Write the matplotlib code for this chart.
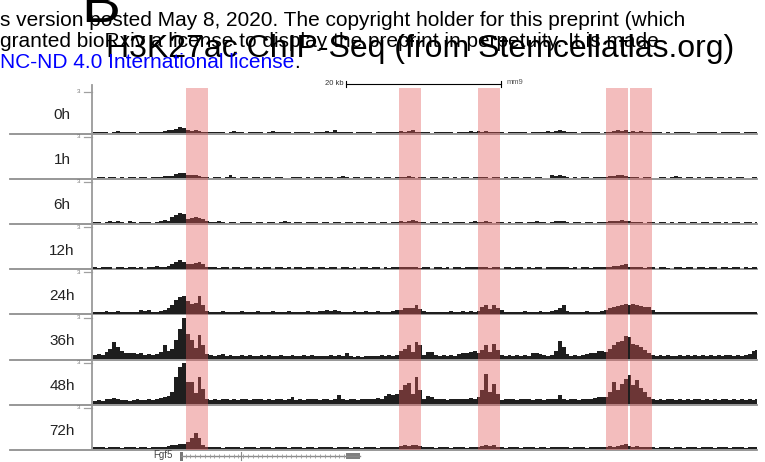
"""H3K27ac ChIP-Seq tracks around Fgf5 (Stemcellatlas.org), time course 0h-72h."""
import numpy as np
import matplotlib

matplotlib.use("Agg")
import matplotlib.pyplot as plt  # noqa: E402
from matplotlib.lines import Line2D  # noqa: E402
from matplotlib.patches import Rectangle  # noqa: E402

plt.rcParams["font.family"] = ["Liberation Sans", "DejaVu Sans"]

W, H = 765, 462

# ---- data -------------------------------------------------------------
BIN_KB = 0.5          # signal bin width (kb)
REGION_KB = 85.7      # visible window width (kb)
TRACK_MAX = 3         # data range of every track

TIMEPOINTS = ["0h", "1h", "6h", "12h", "24h", "36h", "48h", "72h"]

SIGNAL_0H = [
    0.1, 0.05, 0.1, 0.1, 0.0, 0.1, 0.15, 0.1, 0.05, 0.1, 0.1, 0.0, 0.1, 0.05, 0.1, 0.1, 0.1, 0.05, 0.15, 0.2,
    0.2, 0.3, 0.4, 0.35, 0.2, 0.15, 0.2, 0.15, 0.1, 0.1, 0.1, 0.05, 0.1, 0.1, 0.0, 0.1, 0.15, 0.05, 0.1, 0.0,
    0.1, 0.05, 0.1, 0.1, 0.0, 0.1, 0.15, 0.1, 0.05, 0.1, 0.1, 0.0, 0.1, 0.1, 0.05, 0.1, 0.0, 0.1, 0.1, 0.1,
    0.15, 0.1, 0.2, 0.1, 0.05, 0.1, 0.1, 0.0, 0.1, 0.05, 0.1, 0.1, 0.0, 0.1, 0.1, 0.1, 0.05, 0.1, 0.1, 0.15,
    0.1, 0.15, 0.2, 0.1, 0.1, 0.05, 0.1, 0.0, 0.1, 0.1, 0.05, 0.1, 0.1, 0.0, 0.1, 0.1, 0.1, 0.15, 0.1, 0.15,
    0.1, 0.15, 0.1, 0.1, 0.05, 0.1, 0.0, 0.1, 0.1, 0.05, 0.1, 0.1, 0.0, 0.05, 0.1, 0.1, 0.1, 0.15, 0.1, 0.15,
    0.25, 0.15, 0.1, 0.05, 0.1, 0.0, 0.1, 0.1, 0.05, 0.1, 0.1, 0.0, 0.1, 0.1, 0.15, 0.2, 0.15, 0.2, 0.1, 0.15,
    0.1, 0.15, 0.1, 0.1, 0.05, 0.1, 0.1, 0.0, 0.1, 0.0, 0.1, 0.05, 0.1, 0.1, 0.0, 0.0, 0.1, 0.1, 0.05, 0.1,
    0.1, 0.0, 0.1, 0.1, 0.05, 0.1, 0.1, 0.0, 0.1, 0.1, 0.05, 0.1,
]
SIGNAL_1H = [
    0.05, 0.1, 0.1, 0.0, 0.1, 0.1, 0.05, 0.1, 0.0, 0.1, 0.1, 0.05, 0.1, 0.1, 0.0, 0.1, 0.1, 0.1, 0.15, 0.15,
    0.15, 0.3, 0.4, 0.35, 0.2, 0.25, 0.2, 0.15, 0.1, 0.1, 0.05, 0.1, 0.1, 0.0, 0.1, 0.2, 0.1, 0.0, 0.1, 0.1,
    0.0, 0.1, 0.1, 0.05, 0.1, 0.1, 0.0, 0.1, 0.1, 0.05, 0.0, 0.1, 0.1, 0.1, 0.05, 0.1, 0.0, 0.1, 0.1, 0.05,
    0.1, 0.1, 0.0, 0.1, 0.15, 0.1, 0.05, 0.1, 0.1, 0.0, 0.1, 0.1, 0.05, 0.1, 0.0, 0.1, 0.1, 0.05, 0.1, 0.1,
    0.1, 0.15, 0.1, 0.05, 0.1, 0.1, 0.0, 0.1, 0.1, 0.05, 0.1, 0.1, 0.0, 0.1, 0.05, 0.1, 0.1, 0.0, 0.1, 0.1,
    0.1, 0.1, 0.05, 0.1, 0.1, 0.0, 0.1, 0.05, 0.1, 0.1, 0.0, 0.1, 0.1, 0.05, 0.1, 0.1, 0.0, 0.05, 0.2, 0.15,
    0.2, 0.15, 0.1, 0.05, 0.1, 0.0, 0.1, 0.1, 0.05, 0.1, 0.1, 0.1, 0.1, 0.15, 0.15, 0.2, 0.25, 0.15, 0.1, 0.1,
    0.1, 0.05, 0.1, 0.1, 0.0, 0.0, 0.1, 0.1, 0.05, 0.1, 0.15, 0.1, 0.05, 0.1, 0.1, 0.0, 0.1, 0.05, 0.1, 0.1,
    0.0, 0.1, 0.1, 0.05, 0.1, 0.0, 0.1, 0.1, 0.05, 0.0, 0.1, 0.1,
]
SIGNAL_6H = [
    0.1, 0.1, 0.05, 0.1, 0.15, 0.1, 0.15, 0.1, 0.05, 0.15, 0.1, 0.05, 0.1, 0.1, 0.1, 0.05, 0.1, 0.2, 0.25, 0.2,
    0.45, 0.6, 0.75, 0.7, 0.35, 0.4, 0.45, 0.4, 0.3, 0.15, 0.1, 0.1, 0.15, 0.1, 0.05, 0.1, 0.1, 0.0, 0.1, 0.1,
    0.1, 0.05, 0.1, 0.1, 0.0, 0.1, 0.1, 0.05, 0.1, 0.15, 0.1, 0.0, 0.1, 0.1, 0.05, 0.1, 0.1, 0.1, 0.05, 0.1,
    0.1, 0.0, 0.1, 0.1, 0.05, 0.1, 0.1, 0.0, 0.1, 0.1, 0.05, 0.1, 0.1, 0.0, 0.1, 0.1, 0.05, 0.1, 0.1, 0.15,
    0.1, 0.15, 0.25, 0.15, 0.1, 0.1, 0.05, 0.1, 0.1, 0.0, 0.1, 0.1, 0.05, 0.1, 0.1, 0.1, 0.05, 0.1, 0.15, 0.1,
    0.1, 0.15, 0.1, 0.05, 0.1, 0.1, 0.0, 0.1, 0.05, 0.1, 0.1, 0.05, 0.1, 0.1, 0.15, 0.1, 0.1, 0.05, 0.1, 0.15,
    0.2, 0.15, 0.1, 0.05, 0.1, 0.1, 0.0, 0.1, 0.1, 0.05, 0.1, 0.1, 0.1, 0.15, 0.15, 0.2, 0.25, 0.15, 0.15, 0.1,
    0.1, 0.1, 0.05, 0.1, 0.1, 0.0, 0.1, 0.1, 0.05, 0.1, 0.0, 0.1, 0.1, 0.05, 0.1, 0.1, 0.0, 0.1, 0.1, 0.05,
    0.1, 0.1, 0.0, 0.1, 0.05, 0.1, 0.1, 0.0, 0.1, 0.1, 0.05, 0.1,
]
SIGNAL_12H = [
    0.1, 0.05, 0.1, 0.1, 0.1, 0.0, 0.1, 0.1, 0.05, 0.1, 0.1, 0.05, 0.1, 0.0, 0.1, 0.1, 0.2, 0.1, 0.15, 0.2,
    0.3, 0.5, 0.65, 0.5, 0.3, 0.35, 0.4, 0.45, 0.3, 0.15, 0.1, 0.1, 0.05, 0.1, 0.1, 0.0, 0.1, 0.1, 0.05, 0.1,
    0.1, 0.0, 0.1, 0.05, 0.1, 0.1, 0.0, 0.1, 0.1, 0.05, 0.1, 0.0, 0.1, 0.1, 0.05, 0.1, 0.1, 0.0, 0.1, 0.1,
    0.05, 0.1, 0.1, 0.0, 0.1, 0.1, 0.05, 0.1, 0.0, 0.1, 0.1, 0.05, 0.1, 0.1, 0.0, 0.1, 0.05, 0.1, 0.1, 0.1,
    0.15, 0.1, 0.1, 0.1, 0.05, 0.1, 0.1, 0.0, 0.1, 0.1, 0.05, 0.1, 0.0, 0.1, 0.1, 0.05, 0.1, 0.1, 0.1, 0.1,
    0.1, 0.1, 0.05, 0.1, 0.1, 0.0, 0.1, 0.1, 0.05, 0.1, 0.1, 0.0, 0.1, 0.05, 0.1, 0.1, 0.0, 0.1, 0.1, 0.1,
    0.15, 0.1, 0.1, 0.05, 0.1, 0.0, 0.1, 0.1, 0.05, 0.1, 0.1, 0.1, 0.1, 0.15, 0.2, 0.2, 0.25, 0.3, 0.15, 0.1,
    0.1, 0.1, 0.05, 0.1, 0.1, 0.0, 0.1, 0.1, 0.05, 0.0, 0.1, 0.1, 0.05, 0.1, 0.1, 0.0, 0.1, 0.1, 0.05, 0.1,
    0.1, 0.0, 0.1, 0.1, 0.05, 0.1, 0.1, 0.0, 0.1, 0.05, 0.1, 0.1,
]
SIGNAL_24H = [
    0.15, 0.1, 0.15, 0.2, 0.1, 0.15, 0.2, 0.1, 0.1, 0.15, 0.1, 0.15, 0.25, 0.2, 0.25, 0.1, 0.15, 0.2, 0.3, 0.4,
    0.6, 1.0, 1.2, 1.3, 0.95, 0.7, 0.8, 1.3, 0.6, 0.2, 0.15, 0.1, 0.15, 0.2, 0.1, 0.15, 0.1, 0.15, 0.2, 0.1,
    0.15, 0.1, 0.2, 0.15, 0.1, 0.15, 0.2, 0.1, 0.15, 0.1, 0.2, 0.15, 0.1, 0.15, 0.1, 0.2, 0.15, 0.1, 0.2, 0.2,
    0.25, 0.2, 0.25, 0.2, 0.15, 0.1, 0.15, 0.2, 0.1, 0.15, 0.2, 0.15, 0.1, 0.2, 0.15, 0.1, 0.15, 0.2, 0.25, 0.3,
    0.4, 0.45, 0.4, 0.6, 0.35, 0.2, 0.1, 0.1, 0.15, 0.1, 0.15, 0.1, 0.2, 0.15, 0.15, 0.2, 0.15, 0.2, 0.15, 0.2,
    0.5, 0.6, 0.35, 0.6, 0.45, 0.3, 0.15, 0.1, 0.15, 0.1, 0.15, 0.2, 0.1, 0.15, 0.15, 0.2, 0.1, 0.15, 0.2, 0.3,
    0.4, 0.6, 0.2, 0.1, 0.15, 0.1, 0.15, 0.2, 0.15, 0.1, 0.15, 0.2, 0.3, 0.45, 0.5, 0.55, 0.6, 0.7, 0.6, 0.7,
    0.6, 0.55, 0.5, 0.5, 0.3, 0.15, 0.1, 0.15, 0.1, 0.15, 0.1, 0.1, 0.15, 0.1, 0.1, 0.15, 0.1, 0.1, 0.15, 0.1,
    0.1, 0.15, 0.1, 0.1, 0.15, 0.1, 0.1, 0.15, 0.1, 0.1, 0.1, 0.15,
]
SIGNAL_36H = [
    0.3, 0.35, 0.3, 0.5, 0.75, 1.2, 0.9, 0.6, 0.45, 0.4, 0.45, 0.35, 0.4, 0.3, 0.35, 0.3, 0.35, 0.5, 1.0, 0.55,
    0.75, 1.4, 2.2, 3.0, 1.8, 1.4, 0.8, 1.75, 1.0, 0.35, 0.3, 0.25, 0.3, 0.35, 0.25, 0.3, 0.2, 0.25, 0.3, 0.25,
    0.3, 0.25, 0.2, 0.3, 0.25, 0.3, 0.2, 0.25, 0.3, 0.2, 0.25, 0.3, 0.25, 0.2, 0.3, 0.25, 0.3, 0.25, 0.2, 0.25,
    0.25, 0.3, 0.25, 0.3, 0.25, 0.4, 0.2, 0.15, 0.2, 0.15, 0.2, 0.25, 0.2, 0.25, 0.3, 0.25, 0.3, 0.25, 0.3, 0.6,
    0.75, 1.0, 0.5, 1.25, 1.0, 0.3, 0.5, 0.5, 0.3, 0.25, 0.3, 0.25, 0.3, 0.25, 0.35, 0.45, 0.4, 0.5, 0.55, 0.4,
    0.65, 1.0, 0.5, 1.1, 0.65, 0.3, 0.25, 0.3, 0.25, 0.3, 0.25, 0.3, 0.25, 0.4, 0.45, 0.35, 0.3, 0.25, 0.3, 0.55,
    1.3, 0.9, 0.35, 0.25, 0.3, 0.25, 0.3, 0.35, 0.4, 0.45, 0.55, 0.55, 0.5, 0.75, 1.0, 1.25, 1.3, 1.65, 1.6, 1.1,
    1.0, 0.9, 0.65, 0.45, 0.3, 0.25, 0.3, 0.25, 0.3, 0.2, 0.25, 0.3, 0.25, 0.3, 0.25, 0.3, 0.25, 0.3, 0.25, 0.3,
    0.25, 0.3, 0.25, 0.3, 0.3, 0.25, 0.3, 0.25, 0.3, 0.35, 0.55, 0.65,
]
SIGNAL_48H = [
    0.25, 0.3, 0.25, 0.35, 0.4, 0.45, 0.35, 0.3, 0.3, 0.25, 0.3, 0.35, 0.3, 0.3, 0.35, 0.3, 0.4, 0.45, 0.5, 0.6,
    0.9, 2.0, 2.7, 3.0, 1.6, 1.6, 0.8, 2.0, 1.1, 0.35, 0.3, 0.35, 0.3, 0.4, 0.35, 0.3, 0.35, 0.3, 0.4, 0.35,
    0.3, 0.35, 0.4, 0.35, 0.3, 0.35, 0.3, 0.4, 0.35, 0.3, 0.35, 0.55, 0.3, 0.35, 0.3, 0.35, 0.4, 0.35, 0.3, 0.35,
    0.35, 0.3, 0.4, 0.65, 0.35, 0.3, 0.35, 0.4, 0.3, 0.35, 0.4, 0.35, 0.4, 0.45, 0.4, 0.6, 0.7, 0.65, 0.7, 1.0,
    1.4, 1.5, 0.75, 1.95, 1.0, 0.35, 0.6, 0.55, 0.35, 0.4, 0.35, 0.3, 0.4, 0.35, 0.4, 0.35, 0.4, 0.45, 0.4, 0.5,
    1.0, 2.2, 0.9, 1.45, 0.75, 0.3, 0.35, 0.4, 0.35, 0.3, 0.35, 0.4, 0.35, 0.3, 0.4, 0.35, 0.3, 0.35, 0.4, 0.35,
    0.65, 0.35, 0.3, 0.35, 0.4, 0.3, 0.35, 0.4, 0.35, 0.45, 0.55, 0.5, 0.5, 0.9, 1.6, 1.0, 1.45, 1.85, 2.1, 1.4,
    1.75, 1.2, 0.9, 0.5, 0.35, 0.3, 0.35, 0.3, 0.4, 0.35, 0.3, 0.35, 0.3, 0.35, 0.3, 0.4, 0.35, 0.3, 0.35, 0.3,
    0.35, 0.3, 0.35, 0.4, 0.3, 0.35, 0.3, 0.35, 0.3, 0.35, 0.3, 0.35,
]
SIGNAL_72H = [
    0.15, 0.2, 0.15, 0.1, 0.2, 0.15, 0.2, 0.1, 0.15, 0.2, 0.15, 0.1, 0.2, 0.15, 0.1, 0.15, 0.2, 0.15, 0.2, 0.25,
    0.3, 0.35, 0.4, 0.4, 0.5, 0.85, 1.15, 0.8, 0.3, 0.2, 0.15, 0.2, 0.15, 0.1, 0.2, 0.15, 0.2, 0.15, 0.1, 0.15,
    0.2, 0.15, 0.1, 0.15, 0.2, 0.15, 0.1, 0.2, 0.15, 0.2, 0.1, 0.15, 0.2, 0.15, 0.1, 0.15, 0.2, 0.1, 0.15, 0.2,
    0.15, 0.2, 0.1, 0.15, 0.2, 0.15, 0.1, 0.2, 0.15, 0.1, 0.15, 0.2, 0.15, 0.1, 0.2, 0.15, 0.2, 0.15, 0.2, 0.25,
    0.3, 0.25, 0.3, 0.35, 0.25, 0.15, 0.2, 0.15, 0.1, 0.15, 0.2, 0.15, 0.1, 0.15, 0.2, 0.15, 0.1, 0.2, 0.15, 0.2,
    0.25, 0.3, 0.25, 0.3, 0.2, 0.15, 0.1, 0.15, 0.2, 0.15, 0.1, 0.15, 0.2, 0.15, 0.1, 0.2, 0.15, 0.1, 0.15, 0.2,
    0.15, 0.2, 0.15, 0.1, 0.15, 0.2, 0.15, 0.1, 0.2, 0.15, 0.2, 0.15, 0.2, 0.25, 0.2, 0.25, 0.3, 0.4, 0.25, 0.2,
    0.25, 0.2, 0.15, 0.2, 0.15, 0.1, 0.15, 0.2, 0.15, 0.1, 0.2, 0.15, 0.1, 0.15, 0.2, 0.15, 0.1, 0.15, 0.2, 0.15,
    0.1, 0.15, 0.2, 0.15, 0.1, 0.15, 0.2, 0.15, 0.1, 0.15, 0.2, 0.15,
]
SIGNALS = [SIGNAL_0H, SIGNAL_1H, SIGNAL_6H, SIGNAL_12H,
           SIGNAL_24H, SIGNAL_36H, SIGNAL_48H, SIGNAL_72H]

# highlighted enhancer regions (kb from window start)
HIGHLIGHTS_KB = [(12.0, 14.84), (39.5, 42.3), (49.7, 52.5), (66.2, 69.0), (69.3, 72.1)]
SCALE_BAR_KB = (32.6, 52.6)
SCALE_LABEL = "20 kb"
ASSEMBLY = "mm9"

GENE_NAME = "Fgf5"
GENE_SPAN_KB = (11.4, 34.45)
GENE_EXONS_KB = [(11.23, 11.65), (32.65, 34.45)]
GENE_INNER_EXON_KB = 19.1

HEADER_LINES = [
    "s version posted May 8, 2020. The copyright holder for this preprint (which",
    "granted bioRxiv a license to display the preprint in perpetuity. It is made",
]
LICENSE_TEXT = "NC-ND 4.0 International license"
PANEL = "B"
TITLE = "H3K27ac ChIP-Seq (from Stemcellatlas.org)"

# ---- layout (pixels) ---------------------------------------------------
X_LEFT, X_RIGHT = 93, 757
BASE0, STEP = 133.0, 45.19
TICK_PX = 41.4

SIGNAL_COLOR = "#1e1e1e"
LINE_GRAY = "#8f8f8f"
BAND_COLOR = "#e35c5c"


def fx(px):
    return px / W


def fy(py):
    return 1 - py / H


fig = plt.figure(figsize=(W / 100, H / 100), dpi=100)

bases = [BASE0 + STEP * k for k in range(len(TIMEPOINTS))]
ytop = TRACK_MAX * STEP / TICK_PX

for name, vals, base in zip(TIMEPOINTS, SIGNALS, bases):
    ax = fig.add_axes([fx(X_LEFT), fy(base), fx(X_RIGHT) - fx(X_LEFT), STEP / H])
    edges = np.arange(len(vals) + 1) * BIN_KB
    ax.stairs(np.minimum(vals, TRACK_MAX), edges, fill=True, color=SIGNAL_COLOR, lw=0)
    ax.set_xlim(0, REGION_KB)
    ax.set_ylim(0, ytop)
    ax.axis("off")

    # baseline, label, scale tick
    fig.add_artist(Line2D([fx(10), fx(X_RIGHT)], [fy(base + 0.6)] * 2,
                          color=LINE_GRAY, lw=1.3, zorder=-1))
    fig.add_artist(Line2D([fx(84), fx(92)], [fy(base - TICK_PX)] * 2,
                          color="#a0a0a0", lw=0.9))
    fig.text(fx(79), fy(base - TICK_PX), str(TRACK_MAX), fontsize=4.5,
             color="#777777", ha="center", va="center")
    fig.text(fx(62), fy(base - 18), name, fontsize=11, color="#222222",
             ha="center", va="center")

fig.add_artist(Line2D([fx(92)] * 2, [fy(85), fy(bases[-1] + 1)],
                      color="#9a9a9a", lw=1.3))

# overlay axes: x in kb, y in pixels (top-down)
ov = fig.add_axes([fx(X_LEFT), fy(H), fx(X_RIGHT) - fx(X_LEFT), (H - 76) / H])
ov.set_xlim(0, REGION_KB)
ov.set_ylim(H, 76)
ov.axis("off")

for a, b in HIGHLIGHTS_KB:
    ov.add_patch(Rectangle((a, 88), b - a, bases[-1] + 1 - 88,
                           facecolor=BAND_COLOR, alpha=0.4, lw=0))

# scale bar
s0, s1 = SCALE_BAR_KB
ov.plot([s0, s1], [83.5, 83.5], color="black", lw=0.8)
ov.plot([s0, s0], [80.5, 86.5], color="black", lw=0.8)
ov.plot([s1, s1], [80.5, 86.5], color="black", lw=0.8)
ov.text(s0 - 0.3, 83.5, SCALE_LABEL, fontsize=5.5, color="#333333", ha="right", va="center")
ov.text(s1 + 0.8, 82.5, ASSEMBLY, fontsize=5.5, color="#555555", ha="left", va="center")

# gene model
gy = 455.5
g0, g1 = GENE_SPAN_KB
ov.plot([g0, g1], [gy, gy], color="#8a8a8a", lw=1.0, clip_on=False)
chev = np.arange(GENE_EXONS_KB[0][1] + 0.3, GENE_EXONS_KB[1][0], 0.62)
ov.plot(chev, [gy] * len(chev), ls="none", marker="|", ms=3, mew=0.6,
        color="#9a9a9a", clip_on=False)
ov.plot([GENE_INNER_EXON_KB] * 2, [451.5, 459.5], color="#8a8a8a", lw=0.8, clip_on=False)
e0 = GENE_EXONS_KB[0]
ov.add_patch(Rectangle((e0[0], 451.8), e0[1] - e0[0], 8.8, facecolor="#777777",
                       lw=0, clip_on=False))
e1 = GENE_EXONS_KB[1]
ov.add_patch(Rectangle((e1[0], 452.5), e1[1] - e1[0], 6.0, facecolor="#808080",
                       lw=0, clip_on=False))
ov.text(e0[0] - 0.9, gy, GENE_NAME, fontsize=7, color="#444444", ha="right", va="center")

# header (bioRxiv watermark overlapping panel title)
fig.text(fx(81), fy(22), PANEL, fontsize=42, color="black", va="baseline")
fig.text(fx(105.5), fy(56.5), TITLE, fontsize=23, color="black", va="baseline")
for i, line in enumerate(HEADER_LINES):
    fig.text(0, fy(26 + 21 * i), line, fontsize=15, color="black", va="baseline")
lic = fig.text(0, fy(68), LICENSE_TEXT, fontsize=15, color="#0000ff", va="baseline")
renderer = fig.canvas.get_renderer()
bb = lic.get_window_extent(renderer)
fig.text(bb.x1 / W, fy(68), ".", fontsize=15, color="black", va="baseline")

fig.savefig("out.png", dpi=100)
